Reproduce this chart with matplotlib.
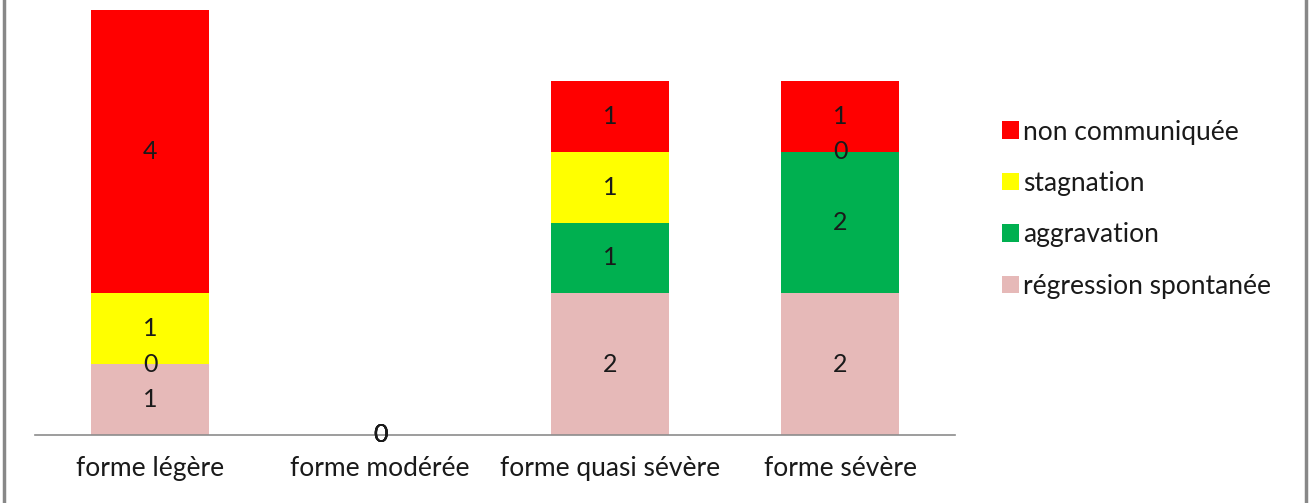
import numpy as np
import matplotlib.pyplot as plt
from matplotlib.lines import Line2D

# data
categories = ['forme légère', 'forme modérée', 'forme quasi sévère', 'forme sévère']
series = ['régression spontanée', 'aggravation', 'stagnation', 'non communiquée']
regression = [1, 0, 2, 2]
aggravation = [0, 0, 1, 2]
stagnation = [1, 0, 1, 0]
non_comm = [4, 0, 1, 1]
colors = ['#E6B9B8', '#00B050', '#FFFF00', '#FF0000']

plt.rcParams['font.family'] = ['Lato', 'DejaVu Sans']

fig = plt.figure(figsize=(13.09, 5.03), dpi=100)
ax = fig.add_axes([35/1309, 68/503, 920/1309, 425/503])

x = np.arange(len(categories))
bottom = np.zeros(len(categories))
handles = []
for name, vals, col in zip(series, [regression, aggravation, stagnation, non_comm], colors):
    vals = np.array(vals, dtype=float)
    b = ax.bar(x, vals, width=0.51, bottom=bottom, color=col, label=name)
    handles.append(b)
    for xi, v, b0 in zip(x, vals, bottom):
        ax.text(xi, b0 + v / 2, f'{int(v)}', ha='center', va='center',
                fontsize=18, color='#1a1a1a')
    bottom += vals

ax.set_xlim(-0.5, 3.5)
ax.set_ylim(0, 6)
ax.set_yticks([])
ax.set_xticks(x)
ax.set_xticklabels(categories, fontsize=19, color='#1a1a1a')
ax.tick_params(axis='x', length=0, pad=15)
for s in ['top', 'right', 'left']:
    ax.spines[s].set_visible(False)
ax.spines['bottom'].set_color('#8c8c8c')
ax.spines['bottom'].set_linewidth(1.2)

leg = fig.legend(handles[::-1], series[::-1], loc='upper left',
                 bbox_to_anchor=(991/1309, 1 - 109/503), frameon=False,
                 fontsize=19, handlelength=0.65, handleheight=0.65,
                 handletextpad=0.15, labelspacing=1.0, borderaxespad=0)
for t in leg.get_texts():
    t.set_color('#1a1a1a')

# grey frame edges
fig.add_artist(Line2D([3.5/1309, 3.5/1309], [0, 1], color='#888888', lw=2.5))
fig.add_artist(Line2D([1305.5/1309, 1305.5/1309], [0, 1], color='#888888', lw=2.5))

fig.savefig('out.png', dpi=100)
